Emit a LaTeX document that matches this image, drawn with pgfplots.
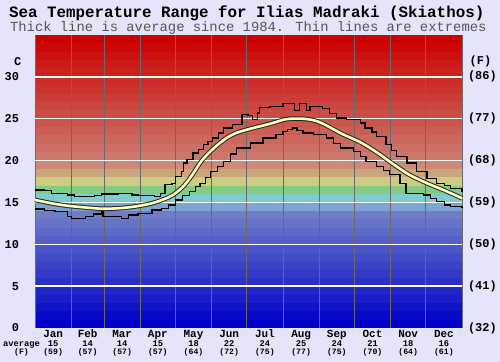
\documentclass[border=0pt]{standalone}
\usepackage{pgfplots}
\pgfplotsset{compat=1.18}
\usepackage{pgfplotstable}
\usepackage{fontspec}
\setmainfont{Liberation Mono}
\definecolor{bg}{RGB}{228,228,250}
\definecolor{avgyel}{RGB}{255,255,190}
\definecolor{vgrid}{RGB}{105,105,105}
\definecolor{subgray}{RGB}{85,85,85}
\definecolor{b0}{RGB}{0,0,200}
\definecolor{b1}{RGB}{9,10,200}
\definecolor{b2}{RGB}{17,19,200}
\definecolor{b3}{RGB}{26,29,200}
\definecolor{b4}{RGB}{34,38,200}
\definecolor{b5}{RGB}{43,48,200}
\definecolor{b6}{RGB}{51,58,200}
\definecolor{b7}{RGB}{60,67,200}
\definecolor{b8}{RGB}{68,77,200}
\definecolor{b9}{RGB}{77,86,200}
\definecolor{b10}{RGB}{85,96,200}
\definecolor{b11}{RGB}{94,106,200}
\definecolor{b12}{RGB}{102,115,200}
\definecolor{b13}{RGB}{111,125,200}
\definecolor{b14}{RGB}{125,165,210}
\definecolor{b15}{RGB}{125,205,205}
\definecolor{b16}{RGB}{130,205,130}
\definecolor{b17}{RGB}{205,205,130}
\definecolor{b18}{RGB}{205,165,125}
\definecolor{b19}{RGB}{205,138,118}
\definecolor{b20}{RGB}{204,120,108}
\definecolor{b21}{RGB}{204,111,100}
\definecolor{b22}{RGB}{204,103,93}
\definecolor{b23}{RGB}{204,94,85}
\definecolor{b24}{RGB}{204,86,77}
\definecolor{b25}{RGB}{204,77,69}
\definecolor{b26}{RGB}{204,69,62}
\definecolor{b27}{RGB}{204,60,54}
\definecolor{b28}{RGB}{204,51,46}
\definecolor{b29}{RGB}{204,43,39}
\definecolor{b30}{RGB}{204,34,31}
\definecolor{b31}{RGB}{204,26,23}
\definecolor{b32}{RGB}{204,17,15}
\definecolor{b33}{RGB}{204,9,8}
\definecolor{b34}{RGB}{204,0,0}
\newcommand\titlef{\fontsize{15.9}{16}\selectfont\bfseries}
\newcommand\subf{\fontsize{13.9}{14}\selectfont}
\newcommand\tickf{\fontsize{12}{12}\selectfont\bfseries}
\newcommand\monf{\fontsize{11}{11}\selectfont\bfseries}
\newcommand\valf{\fontsize{8.8}{9}\selectfont\bfseries}
\newcommand\ff{\fontsize{8.2}{9}\selectfont\bfseries}
\newcommand\mon[4]{%
  \node[font=\monf,anchor=base,inner sep=1pt] at ([yshift=-9.6bp]axis cs:#1,0) {#2};
  \node[font=\valf,anchor=base,inner sep=1pt] at ([yshift=-18.2bp]axis cs:#1,0) {#3};
  \node[font=\ff,anchor=base,inner sep=1pt] at ([yshift=-26.8bp]axis cs:#1,0) {(#4)};}
\pgfplotstableread{
d t
0 15.3
14 14.9
28 14.6
43 14.4
57 14.25
71 14.3
85 14.5
100 14.9
114 15.6
121 16.2
128 17.1
135 18.4
142 19.9
150 21.1
158 22.1
165 22.8
172 23.3
184 23.8
201 24.4
215 24.95
229 25.0
240 24.75
249 24.2
263 23.15
278 22.2
292 21.0
306 19.6
320 18.3
335 17.3
349 16.5
365 15.5
}\avgdata
\pgfplotstableread{
d t
0 16.5
8 16.4
14 16.1
28 15.9
34 15.7
51 15.8
57 16.0
71 16.1
83 15.9
88 15.8
102 15.7
107 16.1
111 17.1
117 17.3
120 18.1
125 18.7
127 19.7
130 20.1
135 20.9
140 21.3
144 21.9
148 22.3
152 22.7
157 23.3
161 23.9
169 24.3
177 25.5
182 25.4
186 24.9
190 25.7
192 26.3
201 26.5
212 26.85
222 26.0
226 26.85
232 26.0
235 26.45
246 26.25
252 25.6
258 25.1
266 24.9
278 24.5
282 23.9
288 23.4
292 22.9
300 21.9
305 21.2
309 20.5
318 19.7
326 18.7
335 17.9
343 17.3
350 17.0
355 16.7
365 16.3
}\updata
\pgfplotstableread{
d t
0 14.2
8 14.0
17 13.9
28 13.3
31 13.1
43 13.3
50 13.6
57 13.9
58 13.3
74 13.1
80 13.5
88 13.7
100 14.1
108 14.3
114 14.7
120 15.3
126 15.8
132 16.3
137 16.9
141 17.3
146 18.0
150 18.7
156 19.3
161 19.9
167 20.8
172 21.5
184 22.1
195 22.7
206 23.1
212 23.5
216 23.7
220 23.9
224 23.6
229 23.3
238 23.1
249 22.7
255 22.0
261 21.5
272 21.1
278 20.5
283 19.9
292 19.3
298 18.8
303 18.3
312 17.3
317 16.1
332 15.9
338 15.5
343 15.1
350 14.7
355 14.5
365 14.3
}\lowdata
\begin{document}
\begin{tikzpicture}
\fill[bg] (0,0) rectangle (500bp,362bp);
\node[font=\titlef,anchor=base] at (246.7bp,344.5bp) {Sea Temperature Range for Ilias Madraki (Skiathos)};
\node[font=\subf,anchor=base,text=subgray] at (248.3bp,330bp) {Thick line is average since 1984. Thin lines are extremes};
\node[font=\tickf] at (17.7bp,300.5bp) {C};
\node[font=\tickf] at (480.5bp,300.5bp) {(F)};
\node[font=\valf,anchor=base,inner sep=0pt] at (21.5bp,16bp) {average};
\node[font=\ff,anchor=base,inner sep=0pt] at (21.5bp,7.3bp) {(F)};
\begin{axis}[at={(35bp,34bp)}, anchor=south west, width=427bp, height=293bp,
  scale only axis, xmin=0, xmax=365, ymin=0, ymax=35, hide axis, clip=false]
\pgfplotsinvokeforeach{0,...,34}{
  \fill[b#1] (axis cs:0,#1) rectangle (axis cs:365,#1.999+0.03);
}
\pgfplotsinvokeforeach{0,31,59,90,120,151,181,212,243,273,304,334,365}{
  \draw[vgrid, line width=0.9bp] (axis cs:#1,0) -- (axis cs:#1,35);
}
\pgfplotsinvokeforeach{5,10,15,20,25,30}{
  \draw[white, line width=1.3bp] (axis cs:0,#1) -- (axis cs:365,#1);
}
\addplot[black, line width=1.3bp, const plot] table[x=d,y=t] {\updata};
\addplot[black, line width=1.3bp, const plot] table[x=d,y=t] {\lowdata};
\addplot[black!85, line width=4.6bp, smooth] table[x=d,y=t] {\avgdata};
\addplot[avgyel, line width=2.6bp, smooth] table[x=d,y=t] {\avgdata};
\pgfplotsinvokeforeach{0,5,10,15,20,25,30}{
  \node[font=\tickf,anchor=east] at ([xshift=-12.5bp]axis cs:0,#1) {#1};
}
\node[font=\tickf,anchor=west] at ([xshift=2.5bp]axis cs:365,0) {(32)};
\node[font=\tickf,anchor=west] at ([xshift=2.5bp]axis cs:365,5) {(41)};
\node[font=\tickf,anchor=west] at ([xshift=2.5bp]axis cs:365,10) {(50)};
\node[font=\tickf,anchor=west] at ([xshift=2.5bp]axis cs:365,15) {(59)};
\node[font=\tickf,anchor=west] at ([xshift=2.5bp]axis cs:365,20) {(68)};
\node[font=\tickf,anchor=west] at ([xshift=2.5bp]axis cs:365,25) {(77)};
\node[font=\tickf,anchor=west] at ([xshift=2.5bp]axis cs:365,30) {(86)};
\mon{15.5}{Jan}{15}{59}
\mon{45}{Feb}{14}{57}
\mon{74.5}{Mar}{14}{57}
\mon{105}{Apr}{15}{57}
\mon{135.5}{May}{18}{64}
\mon{166}{Jun}{22}{72}
\mon{196.5}{Jul}{24}{75}
\mon{227.5}{Aug}{25}{77}
\mon{258}{Sep}{24}{75}
\mon{288.5}{Oct}{21}{70}
\mon{319}{Nov}{18}{64}
\mon{349.5}{Dec}{16}{61}
\end{axis}
\pgfresetboundingbox
\useasboundingbox (0,0) rectangle (500bp,362bp);
\end{tikzpicture}
\end{document}
